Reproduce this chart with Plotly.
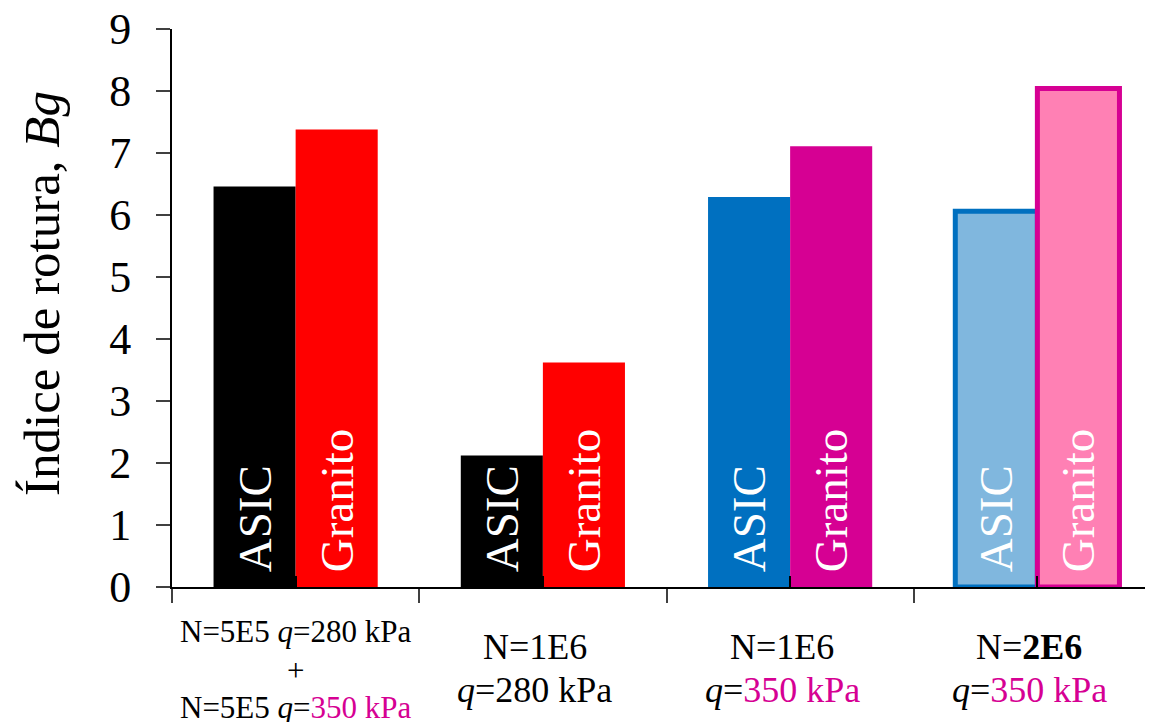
import plotly.graph_objects as go

categories = ["G1", "G2", "G3", "G4"]
asic_values = [6.46, 2.12, 6.29, 6.06]
granito_values = [7.38, 3.62, 7.11, 8.04]
series_names = ["ASIC", "Granito"]

asic_colors = ["#000000", "#000000", "#0070C0", "#80B7DE"]
asic_line_colors = ["#000000", "#000000", "#0070C0", "#0070C0"]
granito_colors = ["#FF0000", "#FF0000", "#D60093", "#FF80B4"]
granito_line_colors = ["#FF0000", "#FF0000", "#D60093", "#D60093"]
outline_widths = [0, 0, 0, 5]

MAG = "#D60093"
xlabel_lines = [
    ["N=5E5 <i>q</i>=280 kPa", "+", f"N=5E5 <i>q</i>=<span style='color:{MAG}'>350 kPa</span>"],
    ["N=1E6", "<i>q</i>=280 kPa"],
    ["N=1E6", f"<i>q</i>=<span style='color:{MAG}'>350 kPa</span>"],
    ["N=<b>2E6</b>", f"<i>q</i>=<span style='color:{MAG}'>350 kPa</span>"],
]
y_title = "Índice de rotura, <i>Bg</i>"

FONT = "Liberation Serif"

fig = go.Figure()
for name, vals, cols, lcols in [
    (series_names[0], asic_values, asic_colors, asic_line_colors),
    (series_names[1], granito_values, granito_colors, granito_line_colors),
]:
    fig.add_trace(go.Bar(
        x=categories, y=vals, name=name,
        marker=dict(color=cols, line=dict(color=lcols, width=outline_widths)),
        text=["\u00a0" + name] * len(vals),
        textposition="inside", insidetextanchor="start", textangle=-90,
        constraintext="none",
        textfont=dict(family=FONT, size=47, color="white"),
        showlegend=False, hoverinfo="skip",
    ))

# invisible trace to drive the upward ticks at group centres
fig.add_trace(go.Scatter(x=categories, y=[None] * len(categories), xaxis="x2",
                         showlegend=False, hoverinfo="skip", mode="markers"))

annotations = []
for i, lines in enumerate(xlabel_lines):
    if len(lines) == 3:
        size, shifts, xs = 31, [-44, -83, -120], 0
    else:
        size, shifts, xs = 36, [-60, -103], -8
    for line, ys in zip(lines, shifts):
        annotations.append(dict(
            x=categories[i], xref="x", y=0, yref="paper", yanchor="middle",
            xanchor="center", yshift=ys, xshift=xs, showarrow=False, text=line,
            font=dict(family=FONT, size=size, color="black"),
        ))

annotations.append(dict(
    x=0, xref="paper", y=0.5, yref="paper", xanchor="center", yanchor="middle",
    xshift=-130, yshift=14, textangle=-90, showarrow=False, text=y_title,
    font=dict(family=FONT, size=51, color="black"),
))

fig.update_layout(
    width=1153, height=722,
    margin=dict(l=164, r=0, t=21, b=143, autoexpand=False),
    paper_bgcolor="white", plot_bgcolor="white",
    barmode="group", bargap=0.336, bargroupgap=0,
    font=dict(family=FONT, color="black"),
    annotations=annotations,
    xaxis=dict(
        type="category", range=[-0.5, 3.5], showticklabels=False,
        showline=True, linecolor="black", linewidth=2,
        ticks="outside", tickson="boundaries", ticklen=14, tickwidth=2,
        tickcolor="#404040", showgrid=False, zeroline=False,
    ),
    xaxis2=dict(
        type="category", overlaying="x", matches="x", showticklabels=False,
        showline=False, ticks="inside", ticklen=11, tickwidth=1.5,
        tickcolor="black", showgrid=False, zeroline=False, side="bottom",
    ),
    yaxis=dict(
        range=[0, 9], dtick=1, tick0=0, showline=True, linecolor="black",
        linewidth=2, ticks="outside", ticklen=14, tickwidth=2,
        tickcolor="#404040", showgrid=False, zeroline=False,
        tickfont=dict(family=FONT, size=44, color="black"),
        ticklabelstandoff=16, ticklabeloverflow="allow",
    ),
)

fig.write_html("out.html")
